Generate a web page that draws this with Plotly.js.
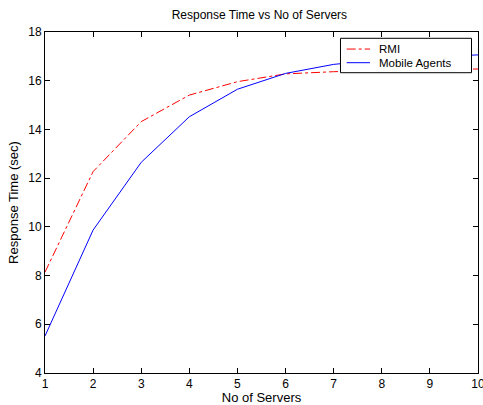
<!DOCTYPE html>
<html>
<head>
<meta charset="utf-8">
<script src="https://cdn.plot.ly/plotly-3.0.1.min.js"></script>
<style>html,body{margin:0;padding:0;background:#fff;}#chart{width:483px;height:405px;}</style>
</head>
<body>
<div id="chart"></div>
<script>
const servers = [1, 2, 3, 4, 5, 6, 7, 8, 9, 10];
const rmiTime = [8.14, 12.27, 14.32, 15.41, 15.96, 16.28, 16.37, 16.42, 16.46, 16.48];
const mobileTime = [5.52, 9.87, 12.65, 14.52, 15.65, 16.30, 16.67, 16.86, 16.98, 17.06];
const seriesNames = ['RMI', 'Mobile Agents'];
const xTicks = [1, 2, 3, 4, 5, 6, 7, 8, 9, 10];
const yTicks = [4, 6, 8, 10, 12, 14, 16, 18];

const fam = 'Liberation Sans, Arial, Helvetica, sans-serif';
const f = (s) => ({family: fam, size: s, color: '#000'});
const styles = [
  {color: '#ff0000', width: 1, dash: 'dashdot'},
  {color: '#0000ff', width: 1, dash: 'solid'}
];
const traces = [
  {x: servers, y: rmiTime, name: seriesNames[0], mode: 'lines', line: styles[0]},
  {x: servers, y: mobileTime, name: seriesNames[1], mode: 'lines', line: styles[1]}
];
const axisCommon = {showline: true, linecolor: '#000', linewidth: 1, mirror: 'allticks', ticks: 'inside', ticklen: 5, tickcolor: '#000', showgrid: false, zeroline: false, tickfont: f(12), ticklabeloverflow: 'allow'};

// legend box drawn in paper coordinates
const lg = {x0: 0.6824, x1: 0.985, y0: 0.8806, y1: 0.9815, sx0: 0.6968, sx1: 0.7506, tx: 0.7667, rows: [0.950, 0.910]};
const shapes = [{type: 'rect', xref: 'paper', yref: 'paper', x0: lg.x0, x1: lg.x1, y0: lg.y0, y1: lg.y1, line: {color: '#000', width: 1}, fillcolor: '#fff', layer: 'above'}];
const annotations = [];
seriesNames.forEach((n, i) => {
  shapes.push({type: 'line', xref: 'paper', yref: 'paper', x0: lg.sx0, x1: lg.sx1, y0: lg.rows[i], y1: lg.rows[i], line: styles[i], layer: 'above'});
  annotations.push({xref: 'paper', yref: 'paper', x: lg.tx, y: lg.rows[i], xanchor: 'left', yanchor: 'middle', text: n, showarrow: false, font: f(11.5)});
});

const layout = {
  width: 483, height: 405,
  margin: {l: 45, r: 5, t: 32, b: 32},
  paper_bgcolor: '#fff', plot_bgcolor: '#fff',
  font: f(12),
  showlegend: false,
  title: {text: 'Response Time vs No of Servers', font: f(12), x: 0.537, xanchor: 'center', y: 0.963, yanchor: 'middle'},
  xaxis: Object.assign({}, axisCommon, {range: [1, 10], tickvals: xTicks, ticktext: xTicks.map(String), title: {text: 'No of Servers', font: f(13), standoff: 2}}),
  yaxis: Object.assign({}, axisCommon, {range: [4, 18], tickvals: yTicks, ticktext: yTicks.map(String), title: {text: 'Response Time (sec)', font: f(13), standoff: 6}}),
  shapes: shapes,
  annotations: annotations
};
Plotly.newPlot('chart', traces, layout, {staticPlot: true, displayModeBar: false});
</script>
</body>
</html>
